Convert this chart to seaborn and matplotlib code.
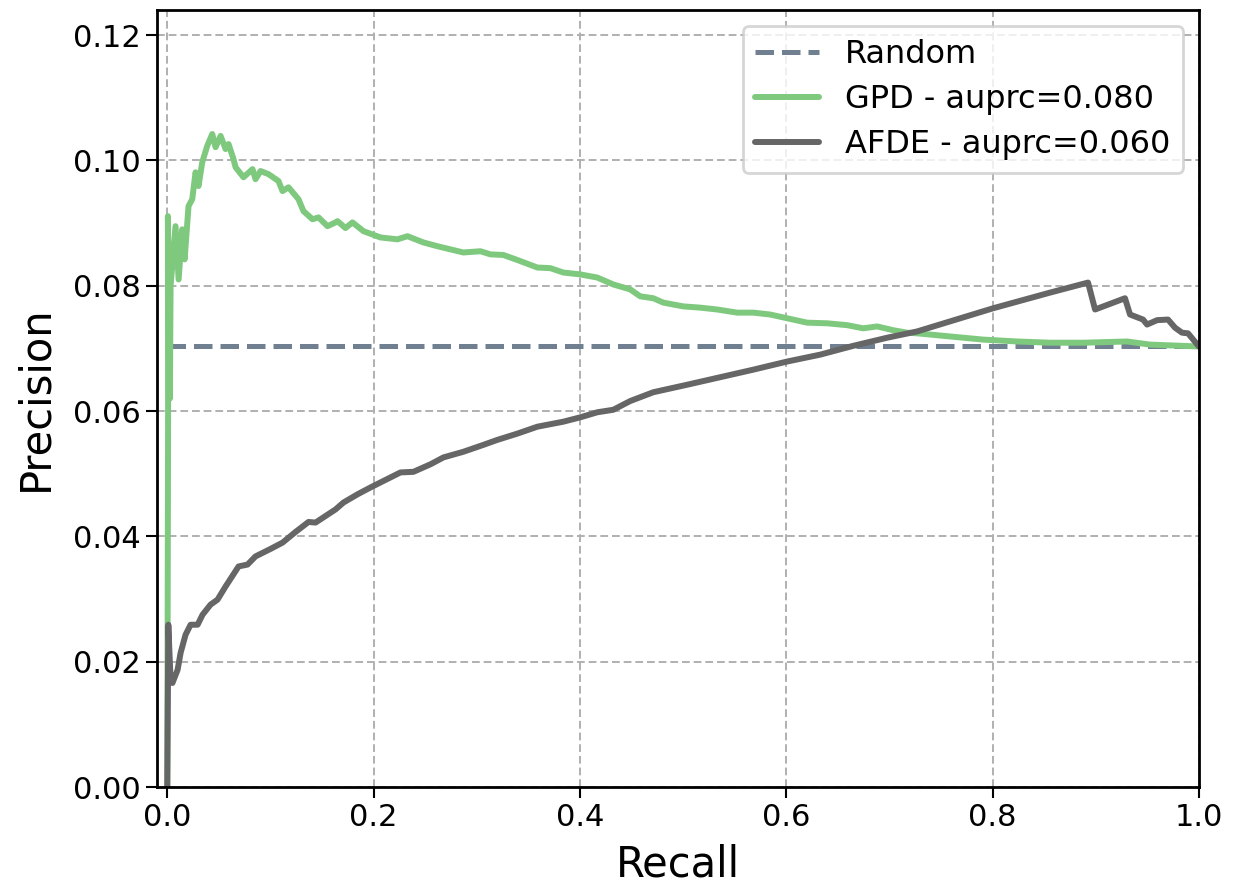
import numpy as np
import pandas as pd
import seaborn as sns
import matplotlib
matplotlib.use('Agg')
import matplotlib.pyplot as plt

# values
random_level = 0.0704

gpd_recall = [0.0, 0.0008, 0.0006, 0.0025, 0.0032, 0.008, 0.011, 0.0145, 0.0168, 0.0206,
              0.0242, 0.0274, 0.0303, 0.0339, 0.0387, 0.0436, 0.0468, 0.0517, 0.0565, 0.0594,
              0.0642, 0.0662, 0.0739, 0.0826, 0.0855, 0.0904, 0.0981, 0.1078, 0.1117, 0.1175,
              0.1272, 0.1320, 0.1408, 0.1466, 0.1553, 0.1631, 0.1650, 0.1727, 0.1795, 0.1902,
              0.2066, 0.2231, 0.2328, 0.2483, 0.2618, 0.2744, 0.2870, 0.3035, 0.3132, 0.3258,
              0.3394, 0.3587, 0.3713, 0.3839, 0.4004, 0.4168, 0.4323, 0.4488, 0.4585, 0.4711,
              0.4808, 0.5001, 0.5166, 0.5331, 0.5525, 0.5680, 0.5844, 0.6009, 0.6203, 0.6397,
              0.6590, 0.6745, 0.6881, 0.7036, 0.7171, 0.7268, 0.7588, 0.7908, 0.8237, 0.8557,
              0.8877, 0.9303, 0.9526, 1.0]
gpd_precision = [0.0, 0.0600, 0.0911, 0.0620, 0.0800, 0.0895, 0.0810, 0.0890, 0.0842, 0.0927,
                 0.0938, 0.0981, 0.0959, 0.0997, 0.1023, 0.1042, 0.1021, 0.1039, 0.1018, 0.1026,
                 0.1002, 0.0989, 0.0973, 0.0986, 0.0970, 0.0983, 0.0978, 0.0967, 0.0951, 0.0957,
                 0.0938, 0.0919, 0.0906, 0.0909, 0.0895, 0.0901, 0.0903, 0.0892, 0.0901, 0.0887,
                 0.0877, 0.0874, 0.0879, 0.0869, 0.0863, 0.0858, 0.0853, 0.0855, 0.0850, 0.0849,
                 0.0841, 0.0829, 0.0828, 0.0821, 0.0818, 0.0813, 0.0802, 0.0794, 0.0783, 0.0780,
                 0.0773, 0.0767, 0.0765, 0.0762, 0.0757, 0.0757, 0.0754, 0.0748, 0.0741, 0.0740,
                 0.0737, 0.0732, 0.0735, 0.0729, 0.0725, 0.0724, 0.0719, 0.0714, 0.0711, 0.0709,
                 0.0709, 0.0711, 0.0706, 0.0703]

afde_recall = [0.0, 0.001, 0.0032, 0.005, 0.010, 0.0129, 0.0177, 0.0226, 0.0294, 0.0342,
               0.0419, 0.0487, 0.0565, 0.0691, 0.0778, 0.0855, 0.1001, 0.1117, 0.1243, 0.1369,
               0.1437, 0.1631, 0.1708, 0.1843, 0.1969, 0.2066, 0.2260, 0.2386, 0.2551, 0.2677,
               0.2870, 0.3064, 0.3200, 0.3394, 0.3587, 0.3839, 0.4004, 0.4168, 0.4323, 0.4488,
               0.4711, 0.5040, 0.5360, 0.5680, 0.6009, 0.6329, 0.6648, 0.6978, 0.7268, 0.8005,
               0.8557, 0.8925, 0.8993, 0.9283, 0.9332, 0.9458, 0.9497, 0.9594, 0.9700, 0.9768,
               0.9836, 0.9894, 1.0]
afde_precision = [0.0, 0.0259, 0.0171, 0.0166, 0.0187, 0.0214, 0.0243, 0.0259, 0.0259, 0.0275,
                  0.0291, 0.0299, 0.0320, 0.0352, 0.0355, 0.0368, 0.0380, 0.0390, 0.0407, 0.0423,
                  0.0422, 0.0443, 0.0454, 0.0467, 0.0478, 0.0486, 0.0502, 0.0503, 0.0515, 0.0526,
                  0.0535, 0.0546, 0.0554, 0.0564, 0.0575, 0.0583, 0.0590, 0.0598, 0.0602, 0.0616,
                  0.0630, 0.0642, 0.0654, 0.0666, 0.0679, 0.0690, 0.0704, 0.0717, 0.0727, 0.0764,
                  0.0789, 0.0805, 0.0762, 0.0780, 0.0754, 0.0746, 0.0738, 0.0745, 0.0746, 0.0733,
                  0.0725, 0.0724, 0.0703]

labels = ['Random', 'GPD - auprc=0.080', 'AFDE - auprc=0.060']
colors = ['slategray', '#7fc97f', '#666666']

sns.set_style('ticks')
plt.rcParams['font.family'] = ['DejaVu Sans']
plt.rcParams['text.color'] = 'black'
plt.rcParams['axes.labelcolor'] = 'black'
plt.rcParams['xtick.color'] = 'black'
plt.rcParams['ytick.color'] = 'black'

fig = plt.figure(figsize=(12.34, 8.9), dpi=100)
ax = fig.add_axes([0.1272, 0.1157, 0.8444, 0.8731])

sns.lineplot(x=[0.0, 1.0], y=[random_level, random_level], ax=ax, color=colors[0],
             linestyle='--', linewidth=3.6, label=labels[0])
sns.lineplot(x=gpd_recall, y=gpd_precision, ax=ax, sort=False, estimator=None,
             color=colors[1], linewidth=4.3, label=labels[1])
sns.lineplot(x=afde_recall, y=afde_precision, ax=ax, sort=False, estimator=None,
             color=colors[2], linewidth=4.3, label=labels[2])

ax.set_xlim(-0.01, 1.0)
ax.set_ylim(0, 0.124)
ax.set_xticks([0.0, 0.2, 0.4, 0.6, 0.8, 1.0])
ax.set_yticks([0.0, 0.02, 0.04, 0.06, 0.08, 0.10, 0.12])
ax.set_yticklabels(['0.00', '0.02', '0.04', '0.06', '0.08', '0.10', '0.12'])
ax.grid(True, linestyle=(0, (4, 2)), color='#b0b0b0', linewidth=1.4)
ax.tick_params(labelsize=22, length=8, width=1.5, color='black', labelcolor='black')
for s in ax.spines.values():
    s.set_color('black')
    s.set_linewidth(2)

ax.set_xlabel('Recall', fontsize=30, color='black', labelpad=8)
ax.set_ylabel('Precision', fontsize=30, color='black', labelpad=12)

leg = ax.legend(loc='upper right', fontsize=23, frameon=True, fancybox=True,
                handlelength=2.0, borderaxespad=0.5, labelspacing=0.45)
leg.get_frame().set_edgecolor('#cccccc')
leg.get_frame().set_linewidth(2)
for t in leg.get_texts():
    t.set_color('black')

fig.savefig('out.png', dpi=100)
